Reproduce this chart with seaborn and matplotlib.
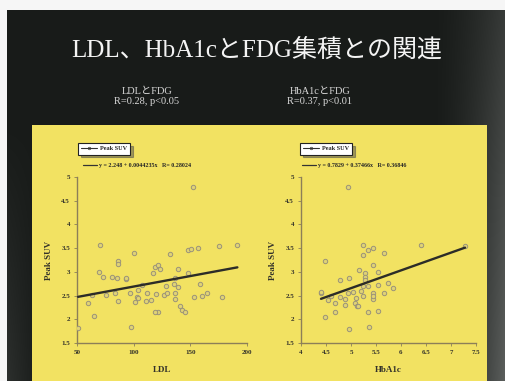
import numpy as np
import matplotlib
matplotlib.use("Agg")
import matplotlib.pyplot as plt
from matplotlib.patches import Rectangle
from matplotlib.lines import Line2D
import seaborn as sns

# LDL vs peak SUV
ldl = [152, 70, 100, 132, 148, 150.6, 157, 175.6, 191.5, 86, 86, 69.4, 73, 80.6,
       85.6, 93, 93, 118.8, 121.8, 123, 117, 139.4, 148, 107, 128.5, 136, 158.5,
       63, 75.6, 83.5, 86.5, 96.5, 104, 102.6, 104, 101.5, 110.5, 115, 112, 120,
       126.5, 129.5, 121.8, 119, 136.5, 136.5, 139, 141, 143, 145, 153.5, 160,
       165, 177.6, 51, 65, 60, 98, 136.5]
suv_ldl = [4.78, 3.57, 3.4, 3.38, 3.46, 3.48, 3.5, 3.55, 3.57, 3.22, 3.17, 3.0, 2.9,
           2.9, 2.86, 2.85, 2.88, 3.1, 3.15, 3.05, 2.98, 3.05, 2.98, 2.72, 2.7, 2.75,
           2.75, 2.51, 2.51, 2.55, 2.38, 2.55, 2.62, 2.48, 2.45, 2.37, 2.39, 2.41,
           2.55, 2.54, 2.51, 2.55, 2.16, 2.16, 2.42, 2.55, 2.68, 2.27, 2.2, 2.16,
           2.46, 2.49, 2.55, 2.48, 1.81, 2.06, 2.35, 1.83, 2.87]

# HbA1c vs peak SUV
hba1c = [4.95, 4.49, 4.4, 4.4, 4.49, 4.6, 4.68, 4.68, 4.78, 4.78, 4.88, 4.88, 4.97,
         4.95, 4.97, 5.05, 5.08, 5.12, 5.17, 5.15, 5.25, 5.25, 5.28, 5.28, 5.28,
         5.25, 5.25, 5.35, 5.35, 5.35, 5.36, 5.45, 5.45, 5.45, 5.45, 5.45, 5.55,
         5.55, 5.66, 5.66, 5.75, 5.85, 6.41, 7.28, 5.55, 5.1, 5.2, 4.55]
suv_hba1c = [4.78, 3.22, 2.55, 2.58, 2.05, 2.5, 2.34, 2.15, 2.83, 2.46, 2.43, 2.3,
             2.86, 2.55, 1.79, 2.58, 2.34, 2.27, 3.04, 2.27, 3.57, 3.36, 2.98, 2.9,
             2.83, 2.7, 2.5, 3.46, 2.7, 2.15, 1.83, 3.5, 3.15, 2.55, 2.43, 2.5, 2.72,
             2.17, 3.39, 2.55, 2.76, 2.65, 3.57, 3.55, 3.0, 2.45, 2.6, 2.4]

# linear fits: intercept, slope, R
ldl_fit = (2.248, 0.0044235, 0.28024)
hba1c_fit = (0.7829, 0.37466, 0.36846)

ldl_ticks = [50, 100, 150, 200]
hba1c_ticks = [4, 4.5, 5, 5.5, 6, 6.5, 7, 7.5]
suv_ticks = [1.5, 2, 2.5, 3, 3.5, 4, 4.5, 5]

title = "LDL、HbA1cとFDG集積との関連"
sub_ldl = ("LDLとFDG", "R=0.28, p<0.05")
sub_hba1c = ("HbA1cとFDG", "R=0.37, p<0.01")

sns.set_style("ticks")
plt.rcParams["font.family"] = ["Liberation Serif", "Noto Sans CJK JP"]

W, H = 506, 381
fig = plt.figure(figsize=(W / 100, H / 100), dpi=100)

# slide background: near-black with a grey glow to the right
bg = fig.add_axes([0, 0, 1, 1])
bg.axis("off")
yy, xx = np.mgrid[0:H, 0:W]
glow = np.clip((xx - 430) / 76.0, 0, 1) ** 1.6 * (0.45 + 0.55 * yy / H)
glow += np.clip((40 - xx) / 40.0, 0, 1) * np.clip((yy - 120) / 260.0, 0, 1) * 0.35
base = np.stack([24 + 70 * glow, 27 + 70 * glow, 25 + 70 * glow], axis=-1)
base[:10, :, :] = 246
base[:, :7, :] = 246
bg.imshow(base.astype(np.uint8), extent=[0, W, H, 0], aspect="auto", interpolation="bilinear")
bg.set_xlim(0, W)
bg.set_ylim(H, 0)
bg.add_patch(Rectangle((32, 125), 455, 260, facecolor="#f2e262", edgecolor="none"))

bg.text(257, 50, title, color="#f4f4f4", fontsize=18, ha="center", va="center")
for cx, (l1, l2) in [(147, sub_ldl), (320, sub_hba1c)]:
    bg.text(cx, 92, l1, color="#dadada", fontsize=7.5, ha="center", va="center")
    bg.text(cx, 101.5, l2, color="#dadada", fontsize=7.5, ha="center", va="center")


def panel(x0, x1, x, y, fit, xticks, xlabel, leg_x, eq_x):
    ax = fig.add_axes([x0 / W, 1 - 343 / H, (x1 - x0) / W, 166 / H])
    ax.set_facecolor("none")
    sns.scatterplot(x=x, y=y, ax=ax, s=10, color="#e0d374", edgecolor="#9a937a",
                    linewidth=0.7, zorder=3)
    xs = np.array([min(x), max(x)])
    sns.lineplot(x=xs, y=fit[0] + fit[1] * xs, ax=ax, color="#2c2c28", lw=1.7, zorder=4)
    ax.set_xlim(xticks[0], xticks[-1])
    ax.set_ylim(suv_ticks[0], suv_ticks[-1])
    ax.set_xticks(xticks)
    ax.set_xticklabels([f"{t:g}" for t in xticks])
    ax.set_yticks(suv_ticks)
    ax.set_yticklabels([f"{t:g}" for t in suv_ticks])
    sns.despine(ax=ax)
    for s in ("left", "bottom"):
        ax.spines[s].set_color("#8c7f58")
        ax.spines[s].set_linewidth(1.0)
    ax.tick_params(labelsize=5, colors="#8c7f58", labelcolor="#33322a", length=2,
                   width=0.6, pad=3)
    for lab in ax.get_xticklabels() + ax.get_yticklabels():
        lab.set_fontweight("bold")
    ax.set_xlabel(xlabel, fontsize=6.5, fontweight="bold", color="#33322a", labelpad=8)
    ax.set_ylabel("Peak SUV", fontsize=6.5, fontweight="bold", color="#33322a", labelpad=6)

    box = ax.legend(handles=[Line2D([], [], color="#333", lw=0.8, marker="o", ms=1.8,
                                    mfc="none", mew=0.5)],
                    labels=["Peak SUV"], loc="upper left",
                    bbox_to_anchor=(leg_x / W, 1 - 143 / H), bbox_transform=fig.transFigure,
                    fontsize=4.5, frameon=True, fancybox=False, shadow=True,
                    edgecolor="#222", framealpha=1, borderaxespad=0, borderpad=0.5,
                    handlelength=2.6, handletextpad=0.4,
                    prop={"weight": "bold", "size": 4.5})
    box.get_frame().set_linewidth(0.8)
    ax.add_artist(box)
    eq = f"y = {fit[0]:g} + {fit[1]:g}x   R= {fit[2]:g}"
    ax.legend(handles=[Line2D([], [], color="#333", lw=0.9)], labels=[eq],
              loc="upper left", bbox_to_anchor=(eq_x / W, 1 - 163 / H),
              bbox_transform=fig.transFigure, frameon=False, borderaxespad=0,
              borderpad=0, handlelength=2.4, handletextpad=0.3,
              prop={"weight": "bold", "size": 4.3})
    return ax


panel(77, 247, ldl, suv_ldl, ldl_fit, ldl_ticks, "LDL", 78, 83)
panel(301, 476, hba1c, suv_hba1c, hba1c_fit, hba1c_ticks, "HbA1c", 300, 302)

fig.savefig("out.png", dpi=100)
